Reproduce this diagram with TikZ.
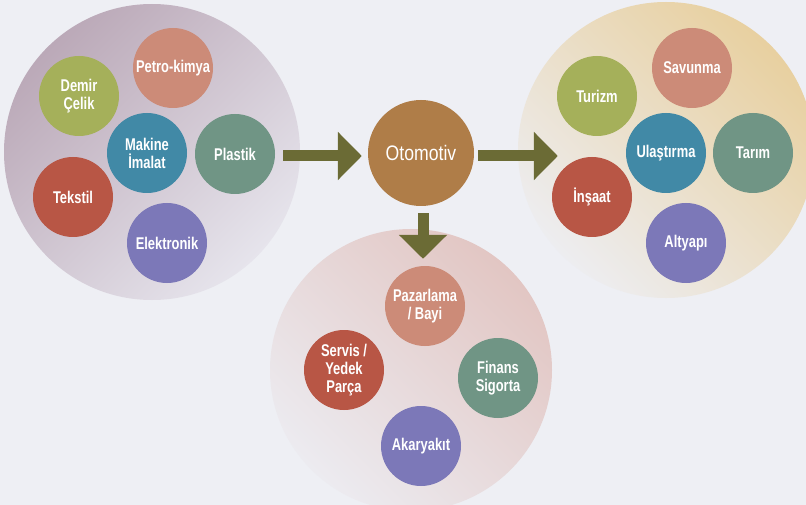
\documentclass[tikz,border=0pt]{standalone}
\usepackage{fontspec}
\setmainfont{Liberation Sans}[FakeStretch=0.76]
\newfontfamily\otofont{Liberation Sans}[FakeStretch=0.84]
\usepackage{tikz}
\usetikzlibrary{arrows.meta}
\usepackage{xcolor}

\definecolor{bgcol}{HTML}{EEEFF4}
\definecolor{olive}{HTML}{6B6B35}
\definecolor{cgreen}{HTML}{A5B05A}
\definecolor{csalmon}{HTML}{CC8B78}
\definecolor{cteal}{HTML}{4189A6}
\definecolor{csage}{HTML}{709585}
\definecolor{cred}{HTML}{B85645}
\definecolor{cpurple}{HTML}{7C78B8}
\definecolor{cbrown}{HTML}{AF7D48}

\begin{document}
\begin{tikzpicture}[x=1pt,y=-1pt,
  bigdisc/.style={circle, minimum size=296pt, inner sep=0pt},
  bub/.style={circle, minimum size=80pt, inner sep=0pt, text=white, align=center,
    font=\fontsize{17}{18}\selectfont\bfseries},
  blockarrow/.style={olive, line width=11pt, -{Triangle[length=24pt,width=47pt]}}]
%%%BACKGROUND
\fill[bgcol] (0,0) rectangle (806,505);
\useasboundingbox (0,0) rectangle (806,505);
%%%SECTORS
\node[bigdisc, top color={rgb,255:red,187;green,169;blue,184}, bottom color={rgb,255:red,230;green,228;blue,236}, shading angle=45] (supply) at (152,152) {};
\node[bigdisc, top color={rgb,255:red,232;green,208;blue,160}, bottom color={rgb,255:red,237;green,237;blue,240}, shading angle=-45] (users) at (666,150) {};
\node[bigdisc, minimum size=282pt, top color={rgb,255:red,226;green,198;blue,195}, bottom color={rgb,255:red,236;green,235;blue,240}, shading angle=-45] (service) at (411,370) {};
%%%SUPPLIERS
\node[bub, fill=csalmon] (petro) at (173,68) {Petro-kimya};
\node[bub, fill=cgreen] (demir) at (79,96) {Demir\\Çelik};
\node[bub, fill=cteal] (makine) at (147,153) {Makine\\İmalat};
\node[bub, fill=csage] (plastik) at (235,154) {Plastik};
\node[bub, fill=cred] (tekstil) at (73,197) {Tekstil};
\node[bub, fill=cpurple] (elektronik) at (167,243) {Elektronik};
%%%CENTRE
\node[circle, fill=cbrown, minimum size=106pt, inner sep=0pt, text=white,
  font=\otofont\fontsize{21}{23}\selectfont] (oto) at (421,153) {Otomotiv};
%%%USERS
\node[bub, fill=cgreen] (turizm) at (597,96) {Turizm};
\node[bub, fill=csalmon] (savunma) at (692,68) {Savunma};
\node[bub, fill=cteal] (ulas) at (666,153) {Ulaştırma};
\node[bub, fill=csage] (tarim) at (753,153) {Tarım};
\node[bub, fill=cred] (insaat) at (592,197) {İnşaat};
\node[bub, fill=cpurple] (altyapi) at (686,243) {Altyapı};
%%%SERVICES
\node[bub, fill=csalmon] (pazar) at (425,306) {Pazarlama\\/ Bayi};
\node[bub, fill=cred] (servis) at (344,370) {Servis /\\Yedek\\Parça};
\node[bub, fill=csage] (finans) at (498,378) {Finans\\Sigorta};
\node[bub, fill=cpurple] (akaryakit) at (421,446) {Akaryakıt};
%%%ARROWS
\draw[blockarrow] ([xshift=8pt,yshift=-2pt]plastik.east) -- ([xshift=-6pt,yshift=-3pt]oto.west);
\draw[blockarrow] ([xshift=4pt,yshift=-3pt]oto.east) -- ([xshift=40pt,yshift=-6pt]users.west);
\draw[blockarrow] ([xshift=2pt,yshift=-7pt]oto.south) -- ([xshift=-2pt,yshift=7pt]pazar.north);
\end{tikzpicture}
\end{document}
